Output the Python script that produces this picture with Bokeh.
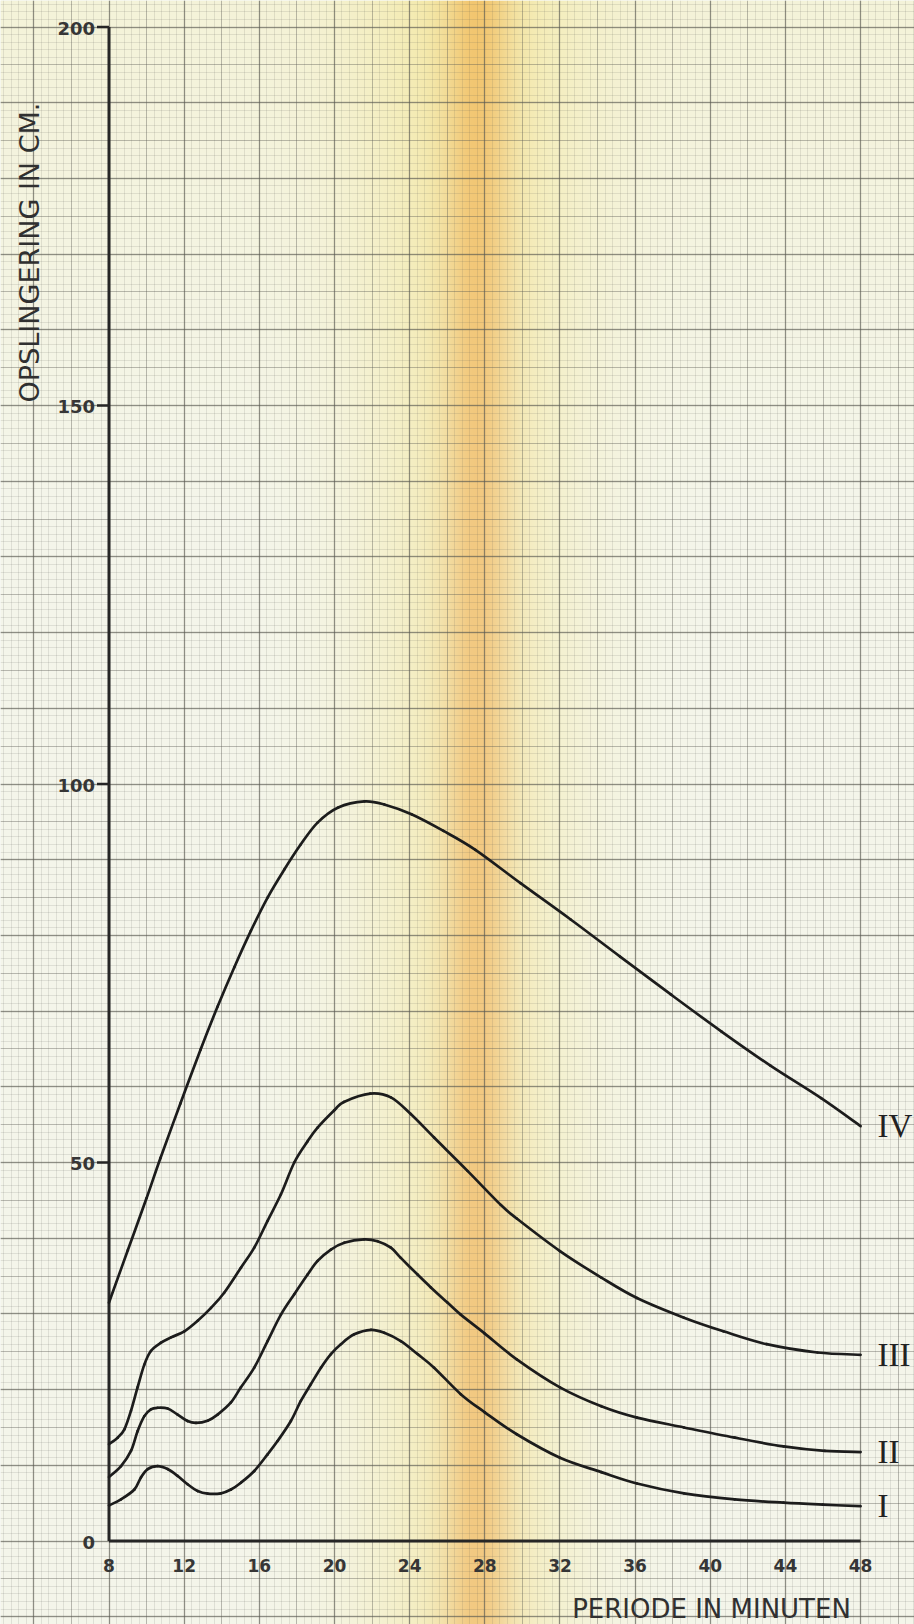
import numpy as np
from bokeh.plotting import figure
from bokeh.models import Range1d, Grid, SingleIntervalTicker
from bokeh.core.properties import value
from bokeh.embed import file_html
from bokeh.resources import INLINE

# ---------------- data ----------------
period_I = [8.0, 8.64, 9.35, 9.70, 10.06, 10.59, 11.12, 11.65, 12.18, 12.72, 13.25, 13.96,
            14.49, 15.02, 15.73, 16.44, 16.97, 17.68, 18.21, 18.74, 19.28, 19.81, 20.34,
            21.05, 21.94, 22.65, 23.53, 24.42, 25.30, 26.72, 28.0, 29.7, 32.0, 34.2, 36.1,
            38.6, 41.3, 43.9, 46.0, 48.0]
amp_I = [4.7, 5.5, 6.8, 8.4, 9.5, 9.9, 9.5, 8.6, 7.5, 6.6, 6.25, 6.3,
         6.8, 7.7, 9.25, 11.45, 13.2, 15.85, 18.5, 20.7, 22.9, 24.7, 26.0,
         27.3, 27.9, 27.5, 26.4, 24.7, 22.9, 19.4, 17.0, 14.1, 11.0, 9.1, 7.6,
         6.3, 5.5, 5.06, 4.8, 4.6]

period_II = [8.0, 8.64, 9.17, 9.52, 9.88, 10.23, 10.59, 11.12, 11.65, 12.18, 12.63, 13.25,
             13.78, 14.49, 15.02, 15.73, 16.44, 17.15, 17.86, 18.57, 19.10, 19.81, 20.52,
             21.58, 22.29, 23.00, 23.53, 24.42, 25.13, 26.01, 26.72, 28.0, 29.7, 32.0,
             34.2, 36.1, 38.6, 41.3, 43.9, 46.1, 48.0]
amp_II = [8.45, 9.9, 11.9, 14.5, 16.5, 17.4, 17.6, 17.5, 16.7, 15.85, 15.6, 15.9,
          16.7, 18.3, 20.3, 22.9, 26.4, 29.9, 32.6, 35.2, 37.0, 38.5, 39.4,
          39.85, 39.6, 38.75, 37.4, 35.2, 33.5, 31.5, 29.9, 27.4, 24.0, 20.3,
          17.8, 16.3, 15.0, 13.65, 12.5, 11.9, 11.75]

period_III = [8.0, 8.46, 8.82, 9.17, 9.52, 9.88, 10.23, 10.77, 11.30, 12.01, 12.72, 13.43,
              14.13, 15.02, 15.73, 16.44, 17.15, 17.86, 18.57, 19.10, 19.99, 20.5, 21.9,
              23.0, 24.06, 25.3, 27.08, 28.85, 29.7, 32.0, 34.2, 36.1, 38.6, 40.7, 43.0,
              45.7, 48.0]
amp_III = [12.8, 13.65, 14.75, 17.2, 20.3, 23.3, 25.1, 26.2, 26.9, 27.7, 29.1, 30.8,
           32.8, 36.1, 38.75, 42.3, 45.8, 50.0, 52.8, 54.6, 56.9, 58.0, 59.1,
           58.6, 56.4, 53.3, 48.9, 44.4, 42.6, 38.3, 34.8, 32.1, 29.5, 27.7, 26.0,
           24.9, 24.6]

period_IV = [8.0, 9.0, 10.0, 10.74, 11.8, 12.87, 13.78, 14.67, 15.55, 16.44, 17.33, 18.2,
             19.1, 20.2, 21.6, 22.65, 24.1, 25.8, 27.5, 29.9, 32.57, 35.2, 37.9, 40.6,
             43.2, 45.9, 48.0]
amp_IV = [31.5, 38.4, 45.3, 50.6, 57.8, 64.9, 70.6, 75.8, 80.6, 85.0, 88.7, 92.0,
          94.9, 96.9, 97.7, 97.3, 96.0, 93.8, 91.3, 86.9, 82.1, 77.2, 72.2, 67.3,
          62.8, 58.5, 54.8]

x_ticks = [8, 12, 16, 20, 24, 28, 32, 36, 40, 44, 48]
y_ticks = [0, 50, 100, 150, 200]
curve_labels = ["I", "II", "III", "IV"]
x_title = "PERIODE IN MINUTEN"
y_title = "OPSLINGERING IN CM."

# ---------------- layout ----------------
W, H = 914, 1624
X0_PX, XS = 108.5, 18.79     # pixel of x=8, pixels per minute
Y0_PX, YS = 1540.5, 7.57     # pixel of y=0, pixels per cm

def px2x(px):
    return x_ticks[0] + (px - X0_PX) / XS

def py2y(py):
    return (Y0_PX - py) / YS

xr = Range1d(px2x(0), px2x(W))
yr = Range1d(py2y(H), py2y(0))

p = figure(width=W, height=H, x_range=xr, y_range=yr, output_backend="svg",
           toolbar_location=None, x_axis_type=None, y_axis_type=None,
           min_border=0, outline_line_color=None,
           background_fill_color="#f2f4ea", border_fill_color="#f2f4ea")

# ---------------- paper background (gradient) ----------------
nrows = 203
cols = np.arange(W) + 0.5
rows_py = H - (np.arange(nrows) + 0.5) * H / nrows
CX, CY = np.meshgrid(cols, rows_py)
core = np.exp(-((CX - 477) / 33.0) ** 2)
broad = np.exp(-((CX - 470) / 115.0) ** 2)
top = np.clip((520 - CY) / 520.0, 0, 1)
r = 245 - 2 * core - 1 * broad
g = 246 - 36 * core - 9 * broad - 3 * top
b = 235 - 58 * core - 48 * broad - 18 * top
img = np.zeros((nrows, W, 4), dtype=np.uint8)
img[..., 0] = np.clip(r, 0, 255)
img[..., 1] = np.clip(g, 0, 255)
img[..., 2] = np.clip(b, 0, 255)
img[..., 3] = 255
img32 = img.view(dtype=np.uint32).reshape((nrows, W))
p.image_rgba(image=[img32], x=xr.start, y=yr.start, dw=xr.end - xr.start,
             dh=yr.end - yr.start, level="image")

# ---------------- graph paper grid ----------------
grid_color = "#5a5a52"
for dim, interval, alpha, width in [
    (0, 0.4, 0.14, 1.0), (1, 1.0, 0.14, 1.0),
    (0, 2.0, 0.30, 1.0), (1, 5.0, 0.30, 1.0),
    (0, 4.0, 0.45, 1.4), (1, 10.0, 0.45, 1.4),
]:
    p.add_layout(Grid(dimension=dim, ticker=SingleIntervalTicker(interval=interval),
                      grid_line_color=grid_color, grid_line_alpha=alpha,
                      grid_line_width=width))

# ---------------- axes drawn as lines ----------------
ink = "#262626"
p.line([x_ticks[0], x_ticks[0]], [y_ticks[0], y_ticks[-1]], line_color=ink, line_width=3)
p.line([x_ticks[0], x_ticks[-1]], [y_ticks[0], y_ticks[0]], line_color=ink, line_width=3)
tick_len = 12 / XS
p.segment(x0=[x_ticks[0] - tick_len] * (len(y_ticks) - 1), y0=y_ticks[1:],
          x1=[x_ticks[0]] * (len(y_ticks) - 1), y1=y_ticks[1:], line_color=ink, line_width=2.5)

p.text(x=[x_ticks[0]] * len(y_ticks), y=y_ticks, text=[str(v) for v in y_ticks],
       x_offset=-14, y_offset=1, text_align="right", text_baseline="alphabetic",
       text_font=value("DejaVu Sans"), text_font_style="bold", text_font_size="18px",
       text_color="#363636")
p.text(x=x_ticks, y=[0] * len(x_ticks), text=[str(v) for v in x_ticks],
       y_offset=24, text_align="center", text_baseline="middle",
       text_font=value("DejaVu Sans"), text_font_style="bold", text_font_size="17px",
       text_color="#363636")

p.text(x=[px2x(29)], y=[py2y(252)], text=[y_title], angle=np.pi / 2,
       text_align="center", text_baseline="middle",
       text_font=value("DejaVu Sans"), text_font_size="27px", text_color="#303030")
p.text(x=[px2x(711)], y=[py2y(1608)], text=[x_title],
       text_align="center", text_baseline="middle",
       text_font=value("DejaVu Sans"), text_font_size="26px", text_color="#303030")

# ---------------- curves (smooth Bezier segments through the read points) ----------------
curves = [(period_I, amp_I), (period_II, amp_II), (period_III, amp_III), (period_IV, amp_IV)]
for xs, ys in curves:
    X = np.asarray(xs, dtype=float)
    Y = np.asarray(ys, dtype=float)
    Xp = np.concatenate([[X[0]], X, [X[-1]]])
    Yp = np.concatenate([[Y[0]], Y, [Y[-1]]])
    n = len(X) - 1
    cx0 = X[:-1] + (Xp[2:n + 2] - Xp[0:n]) / 6.0
    cy0 = Y[:-1] + (Yp[2:n + 2] - Yp[0:n]) / 6.0
    cx1 = X[1:] - (Xp[3:n + 3] - Xp[1:n + 1]) / 6.0
    cy1 = Y[1:] - (Yp[3:n + 3] - Yp[1:n + 1]) / 6.0
    p.bezier(x0=X[:-1], y0=Y[:-1], x1=X[1:], y1=Y[1:], cx0=cx0, cy0=cy0, cx1=cx1, cy1=cy1,
             line_color="#1c1c1c", line_width=2.7, line_cap="round")

p.text(x=[c[0][-1] for c in curves], y=[c[1][-1] for c in curves], text=curve_labels,
       x_offset=17, text_align="left", text_baseline="middle",
       text_font=value("Liberation Serif"), text_font_size="33px", text_color="#222222")

open("out.html", "w").write(file_html(p, INLINE))
